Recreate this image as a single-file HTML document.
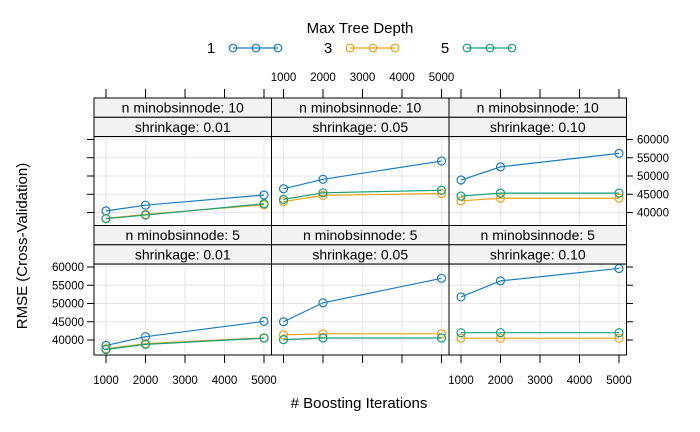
<!DOCTYPE html>
<html><head><meta charset="utf-8"><style>
body{margin:0;background:#fff;}
svg{display:block;font-family:"Liberation Sans",sans-serif;}
</style></head><body>
<svg id="c" width="700" height="432" viewBox="0 0 700 432"></svg>
<script>
const iterations=[1000,2000,5000];
const depthLabels=["1","3","5"];
const depthColors=["#1B7DBF","#E9A31B","#16A07A"];
const shrinkLabels=["0.01","0.05","0.10"];
const minobsLabels=["10"," 5"];
const xTicks=[1000,2000,3000,4000,5000];
const yTicks=[40000,45000,50000,55000,60000];
// rmse[row][col][depth] = RMSE at iterations
const rmse=[
 [
  [[40450,42000,44800],[38400,39500,42100],[38300,39300,42400]],
  [[46500,49100,54100],[43000,44700,45200],[43600,45400,46100]],
  [[48900,52500,56200],[43200,43900,43900],[44500,45300,45300]]
 ],
 [
  [[38500,40900,45100],[37600,39000,40600],[37400,38800,40500]],
  [[45000,50200,56900],[41400,41700,41700],[40100,40550,40550]],
  [[51800,56200,59600],[40500,40500,40500],[42000,42000,42000]]
 ]
];
const NS="http://www.w3.org/2000/svg";
const svg=document.getElementById('c');
function mk(t,a,p){const e=document.createElementNS(NS,t);for(const k in a)e.setAttribute(k,a[k]);(p||svg).appendChild(e);return e;}
const colL=[94,271.5,449],colW=177.5;
const rowStrip=[98,225.5],stripH=19.3,plotTop=[136.5,264],plotH=[89,91];
function xs(c,v){return colL[c]+12+(v-1000)/4000*158;}
function ys(r,v){return plotTop[r]+3+(60000-v)/20000*73;}
let t=mk('text',{x:360,y:33,'text-anchor':'middle','font-size':15,fill:'#000'});t.textContent="Max Tree Depth";


const legX=[211,328,445];
depthLabels.forEach((d,i)=>{
 const g=mk('g',{});
 
 
 const tt=mk('text',{x:legX[i],y:53,'text-anchor':'middle','font-size':15},g);tt.textContent=d;
 mk('line',{x1:legX[i]+22,x2:legX[i]+67,y1:48,y2:48,stroke:depthColors[i],'stroke-width':1.2},g);
 [22,45,67].forEach(o=>mk('circle',{cx:legX[i]+o,cy:48,r:3.8,fill:'none',stroke:depthColors[i],'stroke-width':1.2},g));
});
for(let r=0;r<2;r++)for(let c=0;c<3;c++){
 const g=mk('g',{});
 
 
 const x0=colL[c],y0=plotTop[r],h=plotH[r];
 [0,1].forEach(k=>{
  const sy=rowStrip[r]+k*stripH;
  mk('rect',{x:x0,y:sy,width:colW,height:stripH,fill:'#f2f2f2',stroke:'#000','stroke-width':1},g);
  const st=mk('text',{x:x0+colW/2,y:sy+14.5,'text-anchor':'middle','font-size':14,'xml:space':'preserve'},g);
  st.textContent=k==0?("n minobsinnode: "+minobsLabels[r]):("shrinkage: "+shrinkLabels[c]);
  
  
 });
 xTicks.forEach(v=>mk('line',{x1:xs(c,v),x2:xs(c,v),y1:y0,y2:y0+h,stroke:'#e6e6e6','stroke-width':1},g));
 yTicks.forEach(v=>mk('line',{x1:x0,x2:x0+colW,y1:ys(r,v),y2:ys(r,v),stroke:'#e6e6e6','stroke-width':1},g));
 for(let d=0;d<3;d++){
  const vals=rmse[r][c][d];
  const pts=iterations.map((it,i)=>xs(c,it)+','+ys(r,vals[i])).join(' ');
  const pl=mk('polyline',{points:pts,fill:'none',stroke:depthColors[d],'stroke-width':1.2},g);
  
  
  iterations.forEach((it,i)=>{
   const ci=mk('circle',{cx:xs(c,it),cy:ys(r,vals[i]),r:4,fill:'none',stroke:depthColors[d],'stroke-width':1.2},g);
   
   
  });
 }
 mk('rect',{x:x0,y:y0,width:colW,height:h,fill:'none',stroke:'#000','stroke-width':1},g);
}
for(let c=0;c<3;c++){
 xTicks.forEach(v=>{
  const x=xs(c,v);
  mk('line',{x1:x,x2:x,y1:89,y2:98,stroke:'#000'});
  if(c==1){const tt=mk('text',{x:x,y:81,'text-anchor':'middle','font-size':11.5});tt.textContent=v;
   
   }
  mk('line',{x1:x,x2:x,y1:355,y2:363,stroke:'#000'});
  if(c!=1){const tt=mk('text',{x:x,y:384,'text-anchor':'middle','font-size':11.5});tt.textContent=v;
   
   }
 });
}
yTicks.forEach(v=>{
 let y=ys(0,v);
 mk('line',{x1:87,x2:94,y1:y,y2:y,stroke:'#000'});
 mk('line',{x1:626.5,x2:633,y1:y,y2:y,stroke:'#000'});
 let tt=mk('text',{x:637,y:y+4,'font-size':11.5});tt.textContent=v;
 
 
 y=ys(1,v);
 mk('line',{x1:87,x2:94,y1:y,y2:y,stroke:'#000'});
 mk('line',{x1:626.5,x2:633,y1:y,y2:y,stroke:'#000'});
 tt=mk('text',{x:84,y:y+4,'text-anchor':'end','font-size':11.5});tt.textContent=v;
 
 
});
t=mk('text',{x:359,y:408,'text-anchor':'middle','font-size':15});
t.textContent="# Boosting Iterations";


t=mk('text',{x:0,y:0,'text-anchor':'middle','font-size':15,transform:'translate(27,246) rotate(-90)'});
t.textContent="RMSE (Cross-Validation)";


</script>
</body></html>
